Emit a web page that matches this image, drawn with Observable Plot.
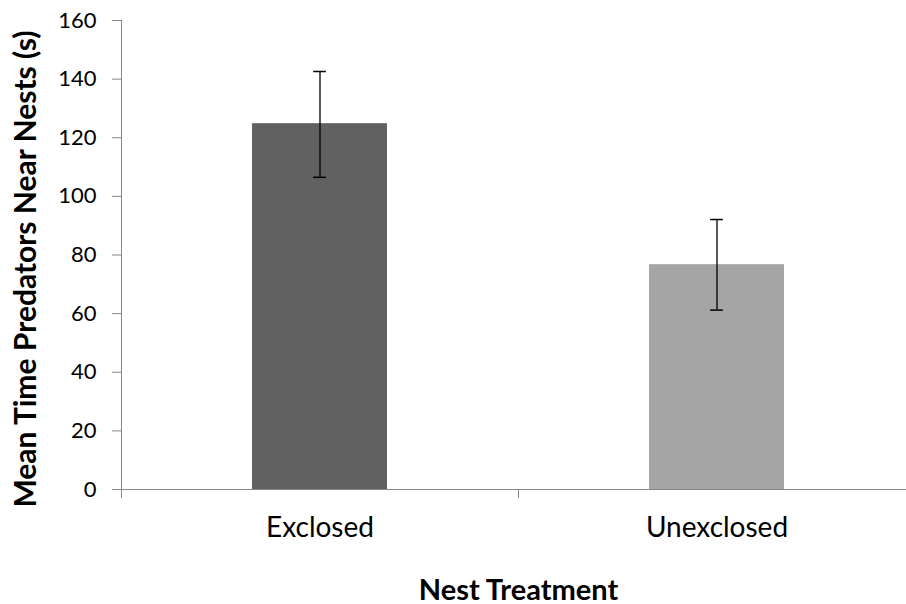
<!DOCTYPE html>
<html>
<head>
<meta charset="utf-8">
<script src="https://cdn.jsdelivr.net/npm/d3@7"></script>
<script src="https://cdn.jsdelivr.net/npm/@observablehq/plot@0.6"></script>
<style>
  html, body { margin: 0; padding: 0; background: #fff; overflow: hidden; }
  #chart svg { display: block; }
</style>
</head>
<body>
<div id="chart"></div>
<script>
const categories = ["Exclosed", "Unexclosed"];
const means = [124.8, 76.7];
const errLow = [106.5, 61.2];
const errHigh = [142.6, 92.1];
const barColors = ["#616161", "#a5a5a5"];
const yTicks = [0, 20, 40, 60, 80, 100, 120, 140, 160];
const yTitle = "Mean Time Predators Near Nests (s)";
const xTitle = "Nest Treatment";

const data = categories.map((c, i) => ({
  cat: c, i, mean: means[i], lo: errLow[i], hi: errHigh[i], color: barColors[i]
}));

const axisColor = "#868686";
const font = "Lato, 'Open Sans', sans-serif";

const chart = Plot.plot({
  width: 906,
  height: 604,
  marginLeft: 121,
  marginRight: -9,
  marginTop: 20,
  marginBottom: 115,
  style: { fontFamily: font, background: "#fff", overflow: "visible" },
  x: { type: "linear", domain: [0, categories.length], axis: null },
  y: { domain: [0, 160], axis: null },
  marks: [
    Plot.rectY(data, {
      x1: d => d.i + 0.33, x2: d => d.i + 0.67, y1: 0, y2: "mean",
      fill: d => d.color
    }),
    // error bars
    Plot.ruleX(data, { x: d => d.i + 0.5, y1: "lo", y2: "hi", stroke: "#000", strokeWidth: 1.3 }),
    Plot.ruleY(data, { y: "hi", x1: d => d.i + 0.484, x2: d => d.i + 0.516, stroke: "#000", strokeWidth: 1.5 }),
    Plot.ruleY(data, { y: "lo", x1: d => d.i + 0.484, x2: d => d.i + 0.516, stroke: "#000", strokeWidth: 1.5 }),
    // y axis
    Plot.axisY({
      ticks: yTicks, tickSize: 9, tickPadding: 16, fontSize: 22, color: "#000",
      stroke: axisColor, label: null, tickFormat: d => String(d)
    }),
    Plot.ruleX([0], { stroke: axisColor, strokeWidth: 1 }),
    // x axis line and boundary ticks
    Plot.ruleY([0], { stroke: axisColor, strokeWidth: 1 }),
    Plot.axisX({
      ticks: d3.range(0, categories.length + 1), tickSize: 9, tickFormat: () => "",
      stroke: axisColor, label: null
    }),
    // category labels
    Plot.axisX({
      ticks: categories.map((c, i) => i + 0.5), tickSize: 0, tickPadding: 28,
      tickFormat: d => categories[Math.round(d - 0.5)], fontSize: 28, color: "#000", label: null
    }),
    // axis titles
    Plot.text([yTitle], {
      frameAnchor: "left", textAnchor: "middle", rotate: -90, dx: -95, dy: 14, lineAnchor: "middle",
      fontSize: 30, fontWeight: "bold", fill: "#000"
    }),
    Plot.text([xTitle], {
      frameAnchor: "bottom", textAnchor: "middle", dy: 101, lineAnchor: "middle",
      fontSize: 29, fontWeight: "bold", fill: "#000"
    })
  ]
});

document.getElementById("chart").appendChild(chart);
</script>
</body>
</html>
